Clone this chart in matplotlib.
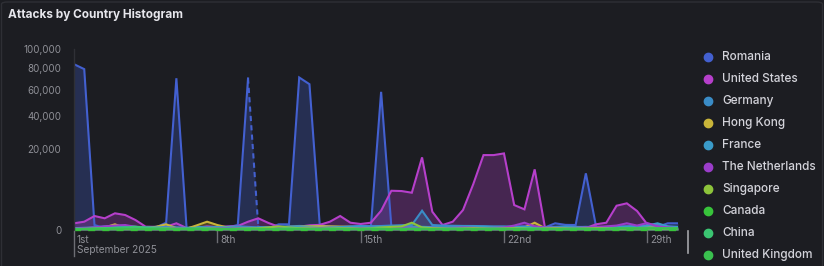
import numpy as np
import matplotlib
matplotlib.use("Agg")
import matplotlib.pyplot as plt
from matplotlib.lines import Line2D
from matplotlib.patches import FancyBboxPatch

plt.rcParams["font.family"] = ["Inter", "DejaVu Sans"]

# 12-hour buckets, 1 Sep 2025 00:00 -> 30 Sep 2025 12:00
steps = np.arange(60) / 2.0  # days since 1 Sep

romania = [83900, 79000, 76, 10, 20, 40, 30, 15, 20, 162,
           70300, 9, 5, 10, 15, 20, 76, 70100, 33, 10,
           99, 99, 71000, 64900, 99, 20, 15, 20, 30, 33,
           58270, 33, 20, 30, 25, 30, 20, 20, 25, 20,
           30, 25, 20, 30, 40, 30, 20, 137, 80, 76,
           9800, 33, 20, 25, 30, 40, 60, 30, 137, 137]
united_states = [137, 210, 597, 417, 850, 685, 305, 33, 30, 33,
                 137, 12, 15, 40, 25, 40, 49, 210, 417, 150,
                 33, 20, 33, 67, 80, 210, 597, 162, 110, 162,
                 1134, 4700, 4630, 4240, 16090, 1020, 76, 210, 1218, 6400,
                 17130, 17130, 17900, 1900, 1300, 11220, 22, 12, 12, 22,
                 12, 99, 162, 1800, 2170, 1100, 99, 80, 33, 12]
germany = [10, 15, 20, 40, 60, 50, 30, 20, 30, 40,
           20, 15, 30, 25, 20, 30, 40, 30, 20, 25,
           30, 40, 50, 45, 40, 35, 30, 40, 50, 45,
           49, 60, 70, 76, 1134, 76, 60, 55, 50, 49,
           45, 40, 40, 35, 30, 30, 25, 30, 40, 30,
           25, 20, 30, 40, 30, 25, 40, 60, 30, 25]
hong_kong = [5, 5, 5, 20, 99, 10, 5, 10, 30, 99,
             10, 5, 67, 210, 76, 20, 10, 5, 5, 10,
             20, 30, 30, 40, 45, 40, 35, 30, 20, 15,
             10, 10, 5, 15, 10, 5, 5, 5, 10, 5,
             5, 5, 5, 10, 20, 162, 10, 5, 5, 5,
             5, 5, 5, 5, 10, 15, 20, 15, 20, 25]
france = [5, 10, 15, 20, 25, 30, 20, 15, 20, 25,
          15, 10, 15, 20, 25, 20, 15, 10, 15, 20,
          25, 30, 25, 20, 15, 20, 25, 30, 35, 30,
          25, 20, 25, 30, 30, 25, 20, 25, 30, 35,
          30, 25, 20, 25, 30, 25, 20, 15, 20, 25,
          30, 25, 20, 30, 40, 50, 60, 137, 40, 30]
netherlands = [5, 10, 20, 40, 60, 76, 30, 15, 10, 15,
               10, 5, 10, 15, 10, 5, 10, 15, 10, 5,
               10, 15, 10, 5, 10, 15, 10, 5, 10, 15,
               10, 15, 20, 15, 10, 15, 10, 15, 20, 15,
               10, 15, 20, 60, 162, 40, 20, 15, 10, 15,
               20, 30, 40, 60, 137, 60, 150, 40, 20, 10]
singapore = [2, 3, 5, 8, 10, 8, 5, 3, 5, 8,
             5, 3, 5, 8, 5, 3, 5, 8, 10, 20,
             40, 20, 10, 8, 5, 8, 10, 8, 5, 10,
             20, 30, 40, 162, 20, 10, 8, 5, 8, 10,
             8, 5, 8, 10, 8, 5, 8, 10, 8, 5,
             8, 10, 8, 5, 8, 10, 8, 5, 8, 10]
canada = [0] * 60
china = [3, 5, 8, 10, 15, 20, 33, 20, 10, 8,
         5, 8, 10, 8, 5, 3, 5, 8, 5, 3,
         5, 8, 5, 3, 5, 8, 5, 3, 5, 8,
         5, 3, 5, 8, 5, 3, 5, 8, 5, 3,
         5, 8, 5, 3, 5, 8, 5, 3, 5, 8,
         5, 3, 5, 8, 9, 9, 9, 9, 9, 9]
united_kingdom = [2, 2, 3, 3, 5, 5, 3, 3, 2, 2,
                  3, 3, 2, 2, 3, 3, 2, 2, 3, 3,
                  2, 2, 3, 3, 2, 2, 3, 3, 2, 2,
                  3, 3, 2, 2, 3, 3, 2, 2, 3, 3,
                  2, 2, 3, 3, 2, 2, 3, 3, 2, 2,
                  3, 3, 2, 9, 9, 9, 9, 9, 9, 9]

countries = ["Romania", "United States", "Germany", "Hong Kong", "France",
             "The Netherlands", "Singapore", "Canada", "China", "United Kingdom"]
series = [romania, united_states, germany, hong_kong, france,
          netherlands, singapore, canada, china, united_kingdom]
colors = ["#4360d0", "#b63fcb", "#3a8cc7", "#c9b53a", "#3a9bc9",
          "#9b3dca", "#8dc43b", "#38c43b", "#3bc572", "#3ac04f"]

y_ticks = [0, 20000, 40000, 60000, 80000, 100000]
x_tick_days = [0, 7, 14, 21, 28]
x_tick_labels = ["1st", "8th", "15th", "22nd", "29th"]

BG = "#1c1d22"
W, H = 824, 266

fig = plt.figure(figsize=(W / 100, H / 100), dpi=100, facecolor=BG)
fig.add_artist(FancyBboxPatch((1.5 / W, -10 / H), 1 - 3 / W, 1 + 8 / H,
                              boxstyle="round,pad=0,rounding_size=0.008",
                              transform=fig.transFigure, facecolor="none",
                              edgecolor="#2e2f35", linewidth=1.0, zorder=-1))

ax = fig.add_axes([74 / W, 1 - 230 / H, (678 - 74) / W, (230 - 49) / H])
ax.set_facecolor("none")
ax.set_yscale("function", functions=(lambda v: np.sqrt(np.clip(v, 0, None)),
                                     lambda v: np.square(v)))

LW = 1.5
for name, vals, col in zip(countries, series, colors):
    vals = np.array(vals, dtype=float)
    ax.fill_between(steps, 0, vals, color=col, alpha=0.28, linewidth=0)
    if name == "Romania":
        # segment 17 -> 18 is drawn dashed in the reference
        ax.plot(steps[:18], vals[:18], color=col, lw=LW, solid_joinstyle="miter")
        ax.plot(steps[17:19], vals[17:19], color=col, lw=LW, ls=(0, (2.5, 2)))
        ax.plot(steps[18:], vals[18:], color=col, lw=LW, solid_joinstyle="miter")
    elif name == "Canada":
        ax.plot(steps, vals, color=col, lw=1.7, ls=(0, (3, 3)), clip_on=False)
    else:
        ax.plot(steps, vals, color=col, lw=LW, solid_joinstyle="miter")

ax.set_xlim(steps[0], steps[-1])
ax.set_ylim(0, 100000)
ax.set_yticks(y_ticks)
ax.set_yticklabels([f"{t:,}" for t in y_ticks])
ax.tick_params(axis="y", length=0, pad=9, labelsize=7, labelcolor="#8f9097")
ax.set_xticks([])
for s in ["top", "right", "bottom"]:
    ax.spines[s].set_visible(False)
ax.spines["left"].set_color("#2f3036")
ax.spines["left"].set_linewidth(1.0)

# time axis ticks and labels
for d, lab in zip(x_tick_days, x_tick_labels):
    xf = (74 + d / steps[-1] * (678 - 74)) / W
    y_end = 256 if d == 0 else 242
    fig.add_artist(Line2D([xf, xf], [1 - 231 / H, 1 - y_end / H],
                          transform=fig.transFigure, color="#6d6e74", lw=1.0))
    fig.text(xf + 3 / W, 1 - 240 / H, lab, fontsize=7.3, color="#8f9097",
             va="center", ha="left")
fig.text(77 / W, 1 - 250 / H, "September 2025", fontsize=7.3, color="#8f9097",
         va="center", ha="left")
fig.add_artist(Line2D([688 / W, 688 / W], [1 - 231 / H, 1 - 253 / H],
                      transform=fig.transFigure, color="#a3a4a9", lw=1.2))

fig.text(8 / W, 1 - 15 / H, "Attacks by Country Histogram", fontsize=8.5,
         fontweight="bold", color="#e6e6ec", va="center", ha="left")

# legend
for i, (name, col) in enumerate(zip(countries, colors)):
    yf = 1 - (57 + 22 * i) / H
    fig.add_artist(Line2D([708 / W], [yf], transform=fig.transFigure,
                          marker="o", markersize=6, color=col, lw=0))
    fig.text(722 / W, yf, name, fontsize=8.5, color="#d3d3da",
             va="center", ha="left", fontweight="medium")

fig.savefig("out.png", dpi=100, facecolor=BG)
